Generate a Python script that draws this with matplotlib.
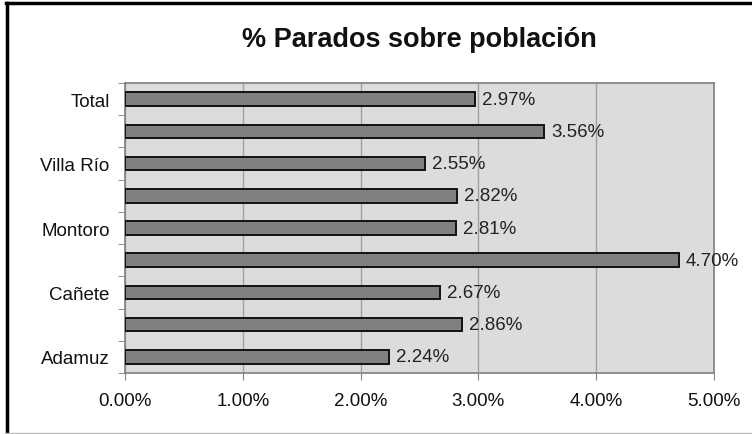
import matplotlib.pyplot as plt
from matplotlib.lines import Line2D
from matplotlib.ticker import FuncFormatter, FixedLocator

plt.rcParams["font.family"] = ["Liberation Sans", "DejaVu Sans"]

# bottom to top, as in the chart
municipios = ["Adamuz", "", "Cañete", "", "Montoro", "", "Villa Río", "", "Total"]
parados = [2.24, 2.86, 2.67, 4.70, 2.81, 2.82, 2.55, 3.56, 2.97]
x_ticks = [0, 1, 2, 3, 4, 5]

fig = plt.figure(figsize=(7.52, 4.35), dpi=100)
ax = fig.add_axes([0.1662, 0.1402, 0.7833, 0.6667])
ax.set_facecolor("#dcdcdc")

pos = list(range(len(parados)))
ax.barh(pos, parados, height=0.42, color="#808080", edgecolor="#111111", linewidth=1.4, zorder=3)

for y, v in zip(pos, parados):
    ax.text(v + 0.06, y, f"{v:.2f}%", va="center", ha="left", fontsize=13.5, color="#222222", zorder=4)

ax.set_xlim(0, 5)
ax.set_ylim(-0.5, len(parados) - 0.5)
ax.xaxis.set_major_locator(FixedLocator(x_ticks))
ax.xaxis.set_major_formatter(FuncFormatter(lambda v, p: f"{v:.2f}%"))
ax.grid(axis="x", color="#a0a0a0", linewidth=1, zorder=1)
ax.set_axisbelow(True)

ax.set_yticks(pos)
ax.set_yticklabels(municipios)
ax.yaxis.set_minor_locator(FixedLocator([p + 0.5 for p in range(-1, len(parados))]))
ax.tick_params(axis="y", which="major", length=0, pad=11, labelsize=13.5, labelcolor="#111111")
ax.tick_params(axis="y", which="minor", length=5, color="#808080", direction="out")
ax.tick_params(axis="x", which="major", length=5, color="#808080", direction="out", pad=9,
               labelsize=13.5, labelcolor="#111111")

for s in ax.spines.values():
    s.set_color("#808080")
    s.set_linewidth(1.2)

fig.text(0.558, 0.908, "% Parados sobre población", ha="center", va="center",
         fontsize=19.5, fontweight="bold", color="#111111")

# figure frame
fig.add_artist(Line2D([0.009, 0.009], [0, 0.99], color="black", linewidth=2.5, transform=fig.transFigure))
fig.add_artist(Line2D([0.008, 1], [0.99, 0.99], color="black", linewidth=2.5, transform=fig.transFigure))
fig.add_artist(Line2D([0.008, 1], [0.002, 0.002], color="#bbbbbb", linewidth=1, transform=fig.transFigure))

fig.savefig("out.png", dpi=100)
